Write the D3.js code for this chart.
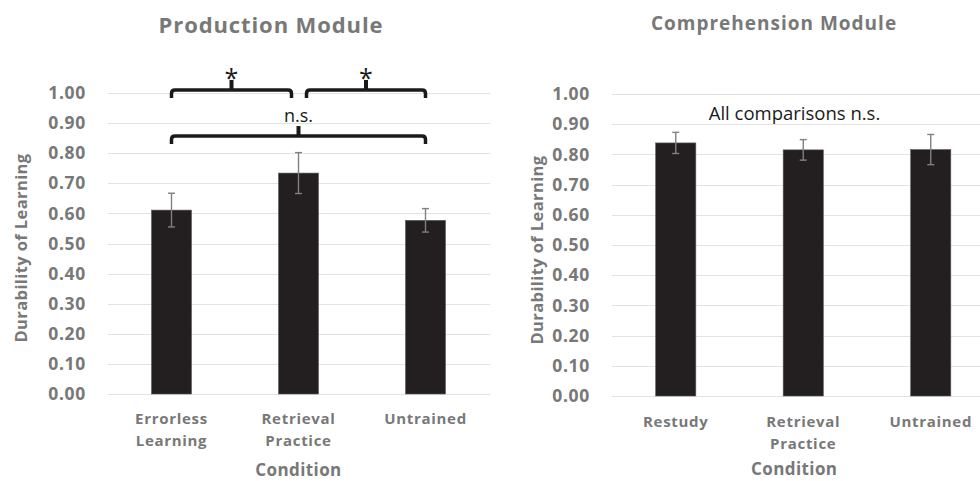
<!DOCTYPE html>
<html>
<head>
<meta charset="utf-8">
<script src="https://cdn.jsdelivr.net/npm/d3@7"></script>
<style>
  html, body { margin: 0; padding: 0; background: #ffffff; }
  svg { display: block; }
</style>
</head>
<body>
<svg id="chart" width="980" height="481"></svg>
<script>
// ---------- DATA ----------
const yTickValues = [0, 0.1, 0.2, 0.3, 0.4, 0.5, 0.6, 0.7, 0.8, 0.9, 1.0];

const prodTitle = "Production Module";
const prodCategories = ["Errorless Learning", "Retrieval Practice", "Untrained"];
const prodLabelLines = [["Errorless", "Learning"], ["Retrieval", "Practice"], ["Untrained"]];
const prodMeans = [0.611, 0.734, 0.577];
const prodErrors = [0.056, 0.068, 0.039];
// significance brackets: from/to category index, level (in data units), label
const prodBrackets = [
  { from: 0, to: 1, level: 1.010, label: "*" },
  { from: 1, to: 2, level: 1.010, label: "*" },
  { from: 0, to: 2, level: 0.857, label: "n.s." }
];

const compTitle = "Comprehension Module";
const compCategories = ["Restudy", "Retrieval Practice", "Untrained"];
const compLabelLines = [["Restudy"], ["Retrieval", "Practice"], ["Untrained"]];
const compMeans = [0.838, 0.815, 0.816];
const compErrors = [0.035, 0.034, 0.050];
const compNote = "All comparisons n.s.";

const xTitle = "Condition";
const yTitle = "Durability of Learning";

// ---------- STYLE ----------
const textGray = "#787878";
const barColor = "#231f20";
const gridColor = "#e3e3e3";
const errColor = "#808080";
const fontFamily = "'Open Sans', 'DejaVu Sans', sans-serif";

const svg = d3.select("#chart");

function drawPanel(cfg) {
  const g = svg.append("g");
  const x = d3.scaleBand()
    .domain(cfg.categories)
    .range([cfg.left, cfg.right])
    .paddingInner(0.685)
    .paddingOuter(0.3425);
  const y = d3.scaleLinear().domain([0, 1]).range([cfg.bottom, cfg.top]);

  // gridlines
  g.append("g")
    .selectAll("line")
    .data(yTickValues)
    .join("line")
    .attr("x1", cfg.left)
    .attr("x2", cfg.gridRight)
    .attr("y1", d => Math.round(y(d)) + 0.5)
    .attr("y2", d => Math.round(y(d)) + 0.5)
    .attr("stroke", gridColor)
    .attr("stroke-width", 1.2);

  // y axis (labels only)
  const yAxis = d3.axisLeft(y)
    .tickValues(yTickValues)
    .tickFormat(d3.format(".2f"))
    .tickSize(0)
    .tickPadding(cfg.tickPad);
  const ya = g.append("g")
    .attr("transform", `translate(${cfg.left},0)`)
    .call(yAxis);
  ya.select(".domain").remove();
  ya.selectAll("text")
    .attr("fill", textGray)
    .style("font-family", fontFamily)
    .style("font-weight", "700")
    .style("font-size", "17.5px")
    .style("letter-spacing", "0.7px");

  // bars
  g.append("g")
    .selectAll("rect")
    .data(cfg.categories)
    .join("rect")
    .attr("x", d => x(d))
    .attr("y", (d, i) => y(cfg.means[i]))
    .attr("width", x.bandwidth())
    .attr("height", (d, i) => y(0) - y(cfg.means[i]))
    .attr("fill", barColor)
    .attr("stroke", "#5a5a5a")
    .attr("stroke-width", 0.6);

  // error bars
  const eb = g.append("g")
    .selectAll("g")
    .data(cfg.categories)
    .join("g")
    .attr("stroke", errColor)
    .attr("stroke-width", 1.4);
  const cx = d => x(d) + x.bandwidth() / 2;
  eb.append("line")
    .attr("x1", cx).attr("x2", cx)
    .attr("y1", (d, i) => y(cfg.means[i] + cfg.errors[i]))
    .attr("y2", (d, i) => y(cfg.means[i] - cfg.errors[i]));
  eb.append("line")
    .attr("x1", d => cx(d) - 3.5).attr("x2", d => cx(d) + 3.5)
    .attr("y1", (d, i) => y(cfg.means[i] + cfg.errors[i]))
    .attr("y2", (d, i) => y(cfg.means[i] + cfg.errors[i]));
  eb.append("line")
    .attr("x1", d => cx(d) - 3.5).attr("x2", d => cx(d) + 3.5)
    .attr("y1", (d, i) => y(cfg.means[i] - cfg.errors[i]))
    .attr("y2", (d, i) => y(cfg.means[i] - cfg.errors[i]));

  // x category labels
  const xl = g.append("g")
    .selectAll("text")
    .data(cfg.categories)
    .join("text")
    .attr("x", cx)
    .attr("y", cfg.catY)
    .attr("text-anchor", "middle")
    .attr("fill", textGray)
    .style("font-family", fontFamily)
    .style("font-weight", "700")
    .style("font-size", "15px")
    .style("letter-spacing", "0.7px");
  xl.each(function(d, i) {
    const t = d3.select(this);
    cfg.labelLines[i].forEach((line, k) => {
      t.append("tspan")
        .attr("x", cx(d))
        .attr("dy", k === 0 ? 0 : 22)
        .text(line);
    });
  });

  // x axis title
  g.append("text")
    .attr("x", (cfg.left + cfg.right) / 2 + cfg.xTitleShift)
    .attr("y", cfg.xTitleY)
    .attr("text-anchor", "middle")
    .attr("fill", textGray)
    .style("font-family", fontFamily)
    .style("font-weight", "700")
    .style("font-size", "17px")
    .style("letter-spacing", "0.4px")
    .text(xTitle);

  // y axis title
  g.append("text")
    .attr("transform", `translate(${cfg.yTitleX},${cfg.yTitleMid}) rotate(-90)`)
    .attr("text-anchor", "middle")
    .attr("fill", textGray)
    .style("font-family", fontFamily)
    .style("font-weight", "700")
    .style("font-size", "16.5px")
    .style("letter-spacing", "0.4px")
    .text(yTitle);

  // chart title
  g.append("text")
    .attr("x", cfg.titleX)
    .attr("y", cfg.titleY)
    .attr("text-anchor", "middle")
    .attr("fill", textGray)
    .style("font-family", fontFamily)
    .style("font-weight", "700")
    .style("font-size", cfg.titleSize + "px")
    .style("letter-spacing", cfg.titleSpacing + "px")
    .text(cfg.title);

  return { g, x, y, cx };
}

// ---------- LEFT PANEL ----------
const left = drawPanel({
  categories: prodCategories, labelLines: prodLabelLines,
  means: prodMeans, errors: prodErrors,
  left: 108, right: 489, gridRight: 490, top: 93, bottom: 394,
  tickPad: 22, catY: 424, xTitleY: 476, xTitleShift: 0,
  yTitleX: 27, yTitleMid: 248,
  title: prodTitle, titleX: 271, titleY: 33, titleSize: 22, titleSpacing: 0.9
});

// brackets
const bracketG = left.g.append("g");
prodBrackets.forEach(b => {
  const cxA = left.cx(prodCategories[b.from]);
  const cxB = left.cx(prodCategories[b.to]);
  const adjacent = (b.to - b.from) === 1;
  const x1 = cxA + (adjacent && b.from > 0 ? 8 : 0);
  const x2 = cxB - (adjacent && b.from === 0 ? 7 : 0);
  const yl = left.y(b.level);
  const drop = 8, r = 3.5;
  const path = d3.path();
  path.moveTo(x1, yl + drop);
  path.lineTo(x1, yl + r);
  path.quadraticCurveTo(x1, yl, x1 + r, yl);
  path.lineTo(x2 - r, yl);
  path.quadraticCurveTo(x2, yl, x2, yl + r);
  path.lineTo(x2, yl + drop);
  bracketG.append("path")
    .attr("d", path.toString())
    .attr("fill", "none")
    .attr("stroke", "#1a1a1a")
    .attr("stroke-width", 3.5);
  const mid = (x1 + x2) / 2;
  bracketG.append("line")
    .attr("x1", mid).attr("x2", mid)
    .attr("y1", yl).attr("y2", yl - 10)
    .attr("stroke", "#1a1a1a")
    .attr("stroke-width", 4);
  const isStar = b.label === "*";
  bracketG.append("text")
    .attr("x", mid)
    .attr("y", isStar ? yl - 3 : yl - 14)
    .attr("text-anchor", "middle")
    .attr("fill", "#1a1a1a")
    .style("font-family", fontFamily)
    .style("font-size", isStar ? "25px" : "18px")
    .text(b.label);
});

// ---------- RIGHT PANEL ----------
const right = drawPanel({
  categories: compCategories, labelLines: compLabelLines,
  means: compMeans, errors: compErrors,
  left: 612, right: 994.5, gridRight: 980, top: 94, bottom: 396,
  tickPad: 22, catY: 427, xTitleY: 475, xTitleShift: -9,
  yTitleX: 543, yTitleMid: 250,
  title: compTitle, titleX: 774, titleY: 30, titleSize: 19, titleSpacing: 1
});

right.g.append("text")
  .attr("x", 794.5)
  .attr("y", 120)
  .attr("text-anchor", "middle")
  .attr("fill", "#1a1a1a")
  .style("font-family", fontFamily)
  .style("font-size", "18.5px")
  .text(compNote);
</script>
</body>
</html>
